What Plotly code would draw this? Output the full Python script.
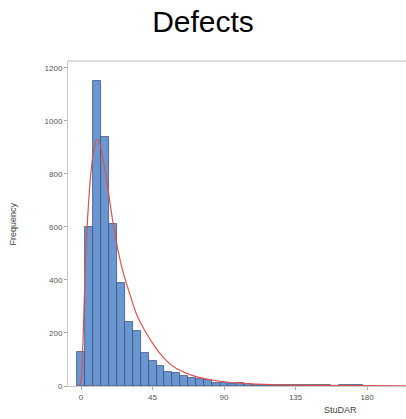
import plotly.graph_objects as go

# Histogram bins (centres, width 5) and counts
bin_centers = [0, 5, 10, 15, 20, 25, 30, 35, 40, 45, 50, 55, 60, 65, 70, 75, 80, 85, 90, 95,
               100, 105, 110, 115, 120, 125, 130, 135, 140, 145, 150, 155, 160, 165, 170, 175, 180]
counts = [130, 600, 1150, 940, 610, 390, 240, 208, 125, 95, 75, 53, 48, 38, 30, 25, 22, 12, 12, 8,
          10, 6, 4, 3, 3, 2, 2, 2, 3, 3, 2, 3, 1, 2, 3, 3, 1]

# Fitted distribution curve
fit_x = [-1, 0, 1, 2, 3, 4, 6, 8, 10, 12, 14, 17, 20, 23, 26, 30, 35, 40, 45, 50, 55, 60,
         70, 80, 90, 100, 120, 150, 205]
fit_y = [0, 20, 130, 320, 500, 620, 790, 890, 930, 910, 850, 740, 620, 520, 440, 360, 270, 210,
         162, 120, 88, 66, 40, 25, 16, 11, 5, 2, 0.5]

x_ticks = [0, 45, 90, 135, 180]
y_ticks = [0, 200, 400, 600, 800, 1000, 1200]

fig = go.Figure()
fig.add_trace(go.Bar(
    x=bin_centers, y=counts, width=5,
    marker=dict(color="#6a97d2", line=dict(color="#3a5380", width=0.8)),
    showlegend=False,
))
fig.add_trace(go.Scatter(
    x=fit_x, y=fit_y, mode="lines", line=dict(color="#d9534f", width=1.2, shape="spline"),
    showlegend=False,
))

fig.update_layout(
    width=406, height=419,
    margin=dict(l=68, r=0, t=61, b=33),
    paper_bgcolor="white", plot_bgcolor="white",
    bargap=0,
    title=dict(text="Defects", x=0.5, xanchor="center", y=1 - 21 / 419, yanchor="middle",
               font=dict(family="Arial, Liberation Sans", size=30, color="black")),
    xaxis=dict(range=[-8.2, 204.5], tickvals=x_ticks, ticks="outside", ticklen=3,
               tickcolor="#aaaaaa", showgrid=False, zeroline=False, showline=True,
               linecolor="#c8c8c8", linewidth=1, mirror=False,
               tickfont=dict(family="Arial, Liberation Sans", size=8, color="#555555")),
    yaxis=dict(range=[0, 1226], tickvals=y_ticks, ticks="outside", ticklen=3,
               tickcolor="#aaaaaa", showgrid=False, zeroline=False, showline=True,
               linecolor="#c8c8c8", linewidth=1,
               tickfont=dict(family="Arial, Liberation Sans", size=8, color="#555555")),
    shapes=[dict(type="line", xref="paper", yref="paper", x0=0, x1=1, y0=1, y1=1,
                 line=dict(color="#d0d0d0", width=1.5))],
    annotations=[
        dict(text="Frequency", xref="paper", yref="paper", x=-68 / 338 + 12 / 338, y=0.5,
             xanchor="center", yanchor="middle", textangle=-90, showarrow=False,
             font=dict(family="Arial, Liberation Sans", size=9, color="#444444")),
        dict(text="StuDAR", xref="paper", yref="paper", x=(340 - 68) / 338, y=-(410 - 386) / 325,
             xanchor="center", yanchor="middle", showarrow=False,
             font=dict(family="Arial, Liberation Sans", size=9, color="#444444")),
    ],
)

fig.write_html("out.html")
